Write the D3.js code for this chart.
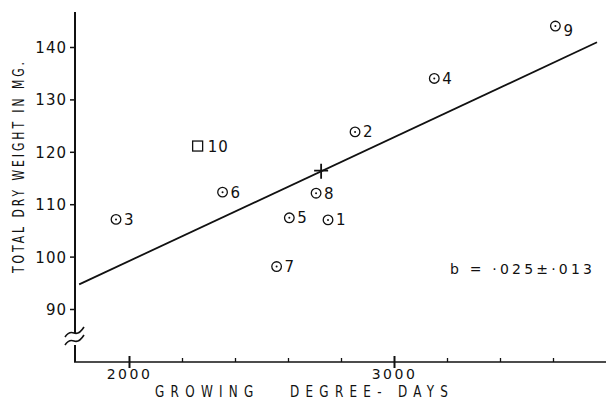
<!DOCTYPE html>
<html><head><meta charset="utf-8">
<script src="https://cdn.jsdelivr.net/npm/d3@7"></script>
<style>
body{margin:0;background:#fff;}
text{font-family:"DejaVu Sans",sans-serif;fill:#111;}
</style></head>
<body><svg id="c" width="608" height="401"></svg>
<script>
const pointIds   = ["1","2","3","4","5","6","7","8","9","10"];
const degreeDays = [2751,2853,1951,3152,2605,2353,2557,2706,3609,2259];
const dryWeight  = [107.0,123.8,107.1,134.0,107.4,112.3,98.1,112.1,144.0,121.1];
const pointShape = ["circle","circle","circle","circle","circle","circle","circle","circle","circle","square"];
const meanPoint  = [2725,116.4];
const lineX      = [1812,3766];
const lineY      = [94.7,140.9];
const yTicks     = [90,100,110,120,130,140];
const xMajorTicks= [2000,3000];
const xMinorTicks= [2200,2400,2600,2800,3200,3400,3600];
const equation   = "b = \u00b7025\u00b1\u00b7013";

const svg = d3.select("#c");
const x = d3.scaleLinear().domain([1800,3800]).range([76,606]);
const y = d3.scaleLinear().domain([90,140]).range([309,47]);
const x0 = 75, yBase = 362;

const ax = svg.append("g").attr("stroke","#111").attr("fill","none");
// y axis (with break)
ax.append("line").attr("x1",x0).attr("x2",x0).attr("y1",y(146.7)).attr("y2",333).attr("stroke-width",2);
ax.append("line").attr("x1",x0).attr("x2",x0).attr("y1",345).attr("y2",yBase).attr("stroke-width",2);
// break marks
[0,8].forEach(o=>{
  ax.append("path").attr("stroke-width",1.6)
    .attr("d",`M${x0-10},${341+o-4} q4,-6 9,-4 q5,2 10,-6`);
});
// x axis
ax.append("line").attr("x1",x0-1).attr("x2",606).attr("y1",yBase).attr("y2",yBase).attr("stroke-width",1.6);

// y ticks via axis
const yAxis = d3.axisLeft(y).tickValues(yTicks).tickSize(5).tickPadding(3).tickFormat(d3.format("d"));
const gy = svg.append("g").attr("transform",`translate(${x0},0)`).call(yAxis);
gy.select(".domain").remove();
gy.selectAll(".tick line").attr("stroke","#111").attr("stroke-width",1.5);
gy.selectAll(".tick text").attr("font-size",15).attr("dy","0.36em").attr("letter-spacing",1).style("font-family","DejaVu Sans");

// x minor ticks
const gxm = svg.append("g").attr("transform",`translate(0,${yBase})`).call(d3.axisTop(x).tickValues(xMinorTicks).tickSize(4).tickFormat(""));
gxm.select(".domain").remove();
gxm.selectAll(".tick line").attr("stroke","#111").attr("stroke-width",1.3);
// x major ticks
const gx = svg.append("g").attr("transform",`translate(0,${yBase})`).call(d3.axisBottom(x).tickValues(xMajorTicks).tickSize(6).tickPadding(1).tickFormat(d3.format("d")));
gx.select(".domain").remove();
gx.selectAll(".tick line").attr("stroke","#111").attr("stroke-width",2).attr("y1",-6);
gx.selectAll(".tick text").attr("font-size",14).attr("letter-spacing",2.5).style("font-family","DejaVu Sans");

// regression line
svg.append("path").datum(lineX.map((d,i)=>[d,lineY[i]]))
  .attr("d",d3.line().x(d=>x(d[0])).y(d=>y(d[1])))
  .attr("stroke","#111").attr("stroke-width",1.8).attr("fill","none");

// mean cross
const mx = x(meanPoint[0]), my = y(meanPoint[1]);
svg.append("path").attr("d",`M${mx-7},${my}H${mx+7}M${mx},${my-7}V${my+8}`).attr("stroke","#111").attr("stroke-width",1.8);

// points
const pts = svg.append("g");
pointIds.forEach((id,i)=>{
  const cx = x(degreeDays[i]), cy = y(dryWeight[i]);
  if(pointShape[i]==="square"){
    pts.append("rect").attr("x",cx-5).attr("y",cy-5).attr("width",10).attr("height",10)
      .attr("fill","none").attr("stroke","#111").attr("stroke-width",1.3);
  } else {
    pts.append("circle").attr("cx",cx).attr("cy",cy).attr("r",4.8).attr("fill","none").attr("stroke","#111").attr("stroke-width",1.3);
    pts.append("circle").attr("cx",cx).attr("cy",cy).attr("r",1).attr("fill","#111");
  }
  const dx = id==="10" ? 10 : 8;
  const dy = id==="9" ? 10 : 5.5;
  pts.append("text").attr("x",cx+dx).attr("y",cy+dy).attr("font-size",15).attr("letter-spacing",1).text(id);
});

// equation
svg.append("text").attr("x",450).attr("y",274).attr("font-size",14)
  .attr("textLength",142).attr("lengthAdjust","spacing").attr("xml:space","preserve").text(equation);

// axis titles
svg.append("text").attr("transform","translate(155,397) scale(0.8,1)").attr("font-size",15)
  .attr("textLength",293/0.8).attr("lengthAdjust","spacing").attr("xml:space","preserve").text("GROWING   DEGREE- DAYS");
svg.append("text").attr("transform","translate(24,273) rotate(-90) scale(0.72,1)")
  .attr("font-size",15).attr("textLength",211/0.72).attr("lengthAdjust","spacing")
  .attr("xml:space","preserve").text("TOTAL DRY WEIGHT IN MG.");
</script></body></html>
